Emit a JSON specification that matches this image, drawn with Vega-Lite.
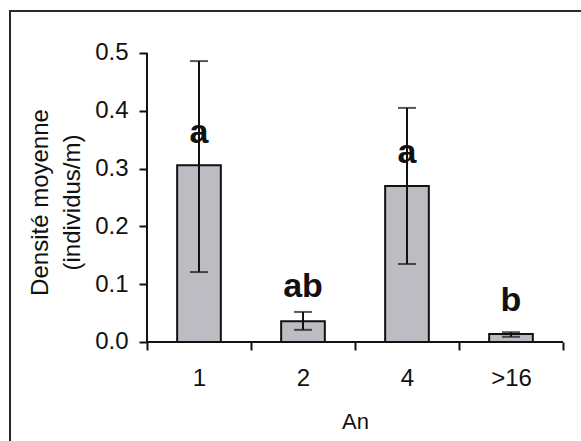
{
  "$schema": "https://vega.github.io/schema/vega-lite/v6.json",
  "width": 575,
  "height": 440,
  "autosize": {"type": "none"},
  "padding": {"left": 10, "top": 11, "right": 0, "bottom": 0},
  "background": "white",
  "config": {
    "view": {"stroke": "#2a2a2a", "strokeWidth": 2},
    "font": "Liberation Sans"
  },
  "data": {
    "values": [
      {"An": "1", "densite": 0.306, "bas": 0.121, "haut": 0.486, "lettre": "a", "y_lettre": 0.344},
      {"An": "2", "densite": 0.036, "bas": 0.021, "haut": 0.052, "lettre": "ab", "y_lettre": 0.078},
      {"An": "4", "densite": 0.270, "bas": 0.135, "haut": 0.405, "lettre": "a", "y_lettre": 0.310},
      {"An": ">16", "densite": 0.014, "bas": 0.009, "haut": 0.017, "lettre": "b", "y_lettre": 0.053}
    ]
  },
  "encoding": {
    "x": {
      "field": "An",
      "type": "nominal",
      "sort": null,
      "scale": {"domain": ["1", "2", "4", ">16"], "paddingInner": 0, "paddingOuter": 0.7644, "align": 0.8616},
      "axis": {
        "title": "An",
        "titleFont": "Liberation Sans",
        "titleFontSize": 22,
        "titleFontWeight": "normal",
        "titleColor": "#111",
        "titleX": 345,
        "titleY": 69,
        "titleBaseline": "top",
        "labelFont": "Liberation Sans",
        "labelFontSize": 24,
        "labelColor": "#111",
        "labelAngle": 0,
        "labelPadding": 16,
        "tickBand": "extent",
        "tickSize": 8,
        "tickWidth": 2,
        "tickColor": "#111",
        "domain": false,
        "grid": false,
        "offset": -109
      }
    }
  },
  "layer": [
    {
      "mark": {"type": "bar", "fill": "#bdbcc3", "stroke": "#111", "strokeWidth": 2, "width": {"band": 0.42}},
      "encoding": {
        "y": {
          "field": "densite",
          "type": "quantitative",
          "scale": {"domain": [-0.18858, 0.57266], "nice": false, "zero": false},
          "axis": {
            "title": ["Densité moyenne", "(individus/m)"],
            "titleFont": "Liberation Sans",
            "titleFontSize": 24,
            "titleFontWeight": "normal",
            "titleColor": "#111",
            "titleLineHeight": 32,
            "titleAngle": 270,
            "titleBaseline": "bottom",
            "titleAlign": "center",
            "titleX": -95,
            "titleY": 191,
            "values": [0, 0.1, 0.2, 0.3, 0.4, 0.5],
            "format": ".1f",
            "labelFont": "Liberation Sans",
            "labelFontSize": 24,
            "labelColor": "#111",
            "labelPadding": 11,
            "tickSize": 8,
            "tickWidth": 2,
            "tickColor": "#111",
            "domain": false,
            "grid": false,
            "offset": -137
          }
        }
      }
    },
    {
      "mark": {"type": "rule", "color": "#111", "strokeWidth": 2},
      "encoding": {
        "y": {"field": "bas", "type": "quantitative"},
        "y2": {"field": "haut"}
      }
    },
    {
      "mark": {"type": "tick", "color": "#111", "size": 18, "thickness": 2, "orient": "horizontal"},
      "encoding": {"y": {"field": "bas", "type": "quantitative"}}
    },
    {
      "mark": {"type": "tick", "color": "#111", "size": 18, "thickness": 2, "orient": "horizontal"},
      "encoding": {"y": {"field": "haut", "type": "quantitative"}}
    },
    {
      "mark": {"type": "bar", "fill": null, "stroke": "#111", "strokeWidth": 2, "width": {"band": 1}},
      "encoding": {
        "y": {"datum": 0, "type": "quantitative"},
        "y2": {"datum": 0}
      }
    },
    {
      "transform": [{"filter": "datum.An === '1'"}],
      "mark": {"type": "rule", "color": "#111", "strokeWidth": 2},
      "encoding": {
        "x": {"field": "An", "type": "nominal", "bandPosition": 0},
        "y": {"datum": 0, "type": "quantitative"},
        "y2": {"datum": 0.5}
      }
    },
    {
      "mark": {"type": "text", "font": "Liberation Sans", "fontWeight": "bold", "fontSize": 34, "baseline": "alphabetic", "align": "center", "color": "#111"},
      "encoding": {
        "y": {"field": "y_lettre", "type": "quantitative"},
        "text": {"field": "lettre"}
      }
    }
  ]
}
